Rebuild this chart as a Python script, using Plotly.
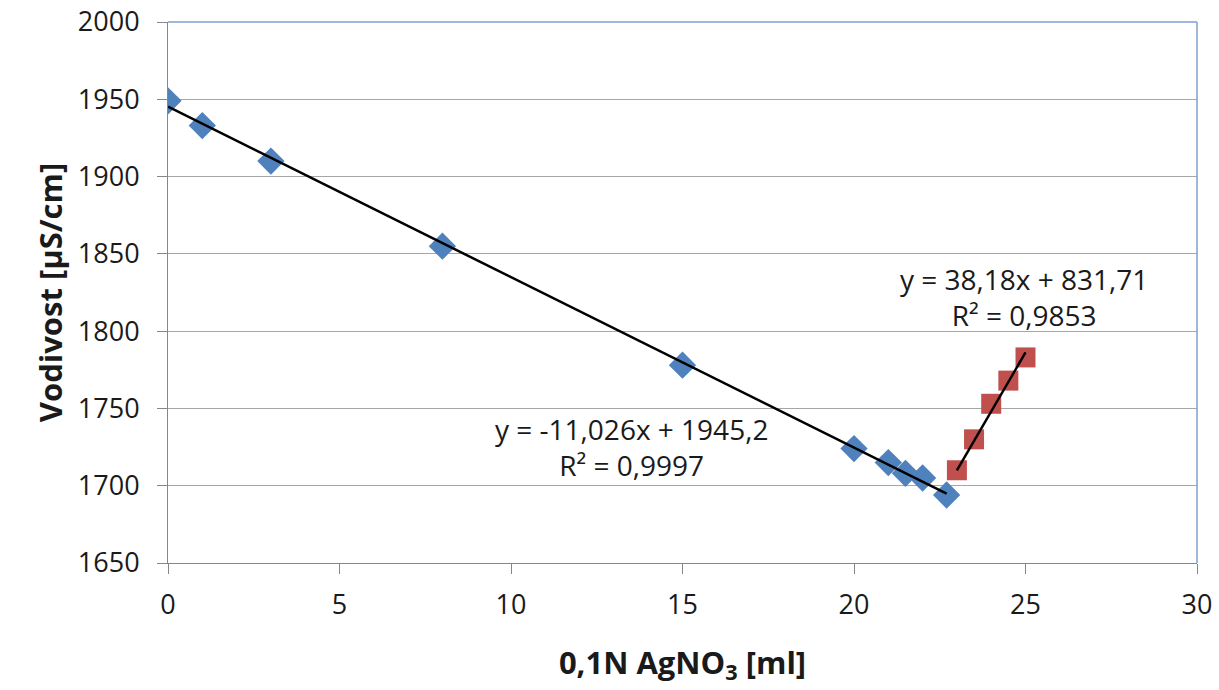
import plotly.graph_objects as go

# Titration: conductivity vs. added 0.1N AgNO3
x_before = [0, 1, 3, 8, 15, 20, 21, 21.5, 22, 22.7]
y_before = [1949, 1933, 1910, 1855, 1778, 1724, 1715, 1708, 1705, 1694]

x_after = [23, 23.5, 24, 24.5, 25]
y_after = [1710, 1730, 1753, 1768, 1783]

# Linear trend lines: (slope, intercept, R^2)
fit_before = (-11.026, 1945.2, 0.9997)
fit_after = (38.18, 831.71, 0.9853)

x_ticks = [0, 5, 10, 15, 20, 25, 30]
y_ticks = [1650, 1700, 1750, 1800, 1850, 1900, 1950, 2000]

FONT = "Open Sans"
BLUE = "#4F81BD"
RED = "#C0504D"
GRID = "#A6A6A6"
TXT = "#1a1a1a"


def fmt(v, nd):
    return f"{v:.{nd}f}".replace(".", ",")


def trend_xy(xs, fit):
    a, b, _ = fit
    xa, xb = min(xs), max(xs)
    return [xa, xb], [a * xa + b, a * xb + b]


fig = go.Figure()

fig.add_trace(go.Scatter(
    x=x_before, y=y_before, mode="markers",
    marker=dict(symbol="diamond", size=21, color=BLUE),
    showlegend=False,
))
fig.add_trace(go.Scatter(
    x=x_after, y=y_after, mode="markers",
    marker=dict(symbol="square", size=20, color=RED),
    showlegend=False,
))

tx, ty = trend_xy(x_before, fit_before)
fig.add_trace(go.Scatter(x=tx, y=ty, mode="lines",
                         line=dict(color="black", width=2.5), showlegend=False))
tx, ty = trend_xy(x_after, fit_after)
fig.add_trace(go.Scatter(x=tx, y=ty, mode="lines",
                         line=dict(color="black", width=2.5), showlegend=False))

eq1 = f"y = {fmt(fit_before[0], 3)}x + {fmt(fit_before[1], 1)}<br>R² = {fmt(fit_before[2], 4)}"
eq2 = f"y = {fmt(fit_after[0], 2)}x + {fmt(fit_after[1], 2)}<br>R² = {fmt(fit_after[2], 4)}"

fig.add_annotation(x=13.5, y=1725, text=eq1, showarrow=False,
                   font=dict(family=FONT, size=28, color=TXT),
                   align="center")
fig.add_annotation(x=24.95, y=1822, text=eq2, showarrow=False,
                   font=dict(family=FONT, size=28, color=TXT),
                   align="center")

# Plot-area border on top and right
fig.add_shape(type="line", xref="paper", yref="paper", x0=0, x1=1, y0=1, y1=1,
              line=dict(color="#7EA0D2", width=1.5))
fig.add_shape(type="line", xref="paper", yref="paper", x0=1, x1=1, y0=0, y1=1,
              line=dict(color="#7EA0D2", width=1.5))

fig.update_xaxes(
    range=[0, 30], tickvals=x_ticks, ticks="outside", ticklen=10,
    tickcolor="#878787", showline=True, linecolor="#878787", linewidth=1,
    showgrid=False, zeroline=False, automargin=False,
    tickfont=dict(family=FONT, size=27, color=TXT),
    ticklabelstandoff=8,
    title=dict(text="<b>0,1N AgNO<sub>3</sub> [ml]</b>",
               font=dict(family=FONT, size=31, color=TXT), standoff=30),
)
fig.update_yaxes(
    range=[1650, 2000], tickvals=y_ticks, ticks="outside", ticklen=10,
    tickcolor="#878787", showline=True, linecolor="#878787", linewidth=1,
    showgrid=True, gridcolor=GRID, gridwidth=1, zeroline=False, automargin=False,
    tickfont=dict(family=FONT, size=27, color=TXT),
    ticklabelstandoff=12,
    title=dict(text="<b>Vodivost [µS/cm]</b>",
               font=dict(family=FONT, size=31, color=TXT), standoff=5),
)

fig.update_layout(
    width=1219, height=690,
    margin=dict(l=168, r=22, t=22, b=127),
    paper_bgcolor="white", plot_bgcolor="white",
)

fig.write_html("out.html")
